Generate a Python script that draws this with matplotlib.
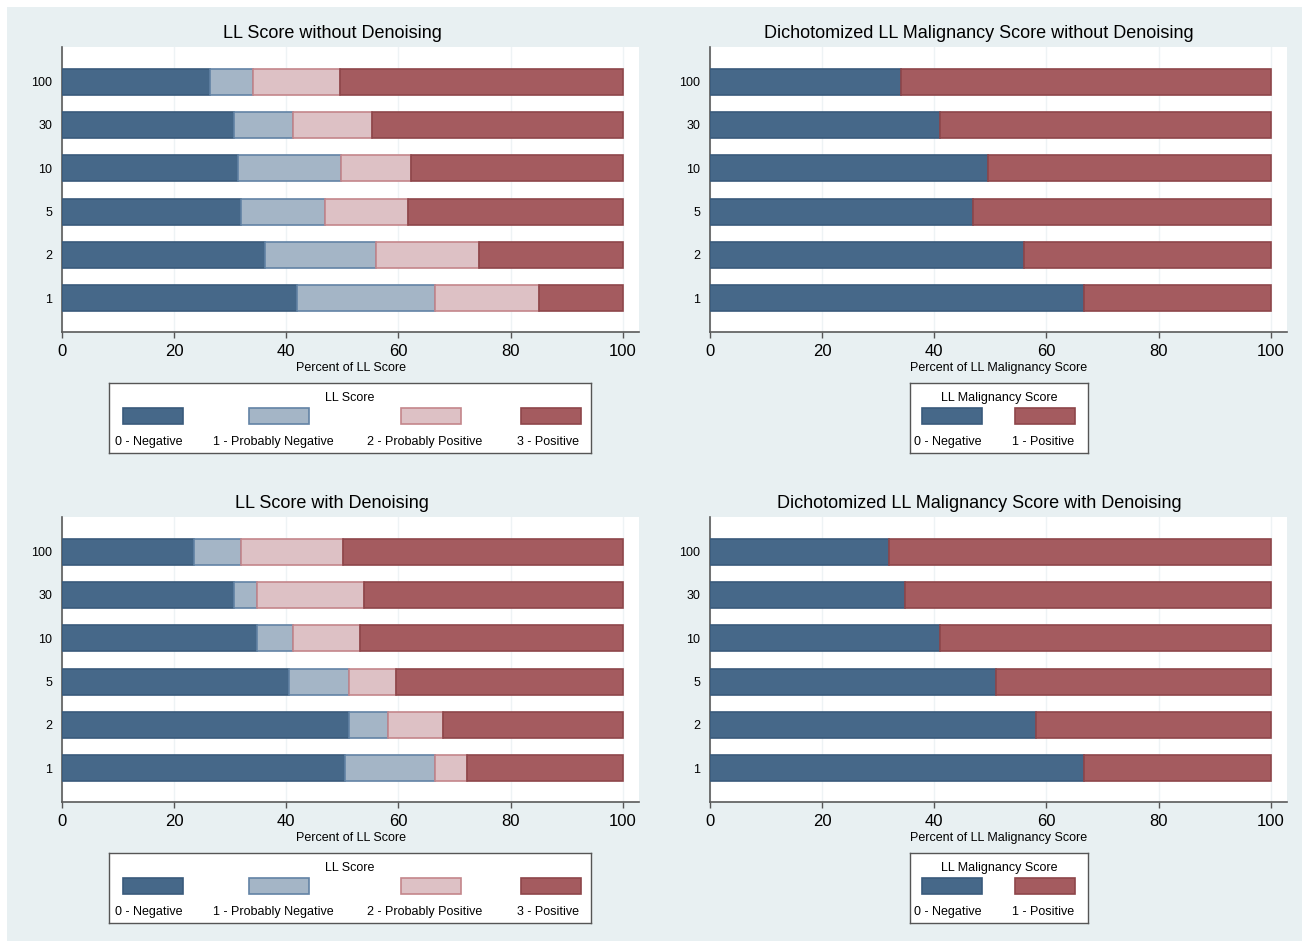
import matplotlib
matplotlib.use("Agg")
import matplotlib.pyplot as plt
from matplotlib.patches import Rectangle

plt.rcParams['font.family'] = ['Liberation Sans', 'DejaVu Sans']

W, H = 1305, 941

doses = ["1", "2", "5", "10", "30", "100"]

score_labels = ["0 - Negative", "1 - Probably Negative",
                "2 - Probably Positive", "3 - Positive"]
malig_labels = ["0 - Negative", "1 - Positive"]

# percent of readings per LL score, rows follow doses (bottom to top)
raw_neg = [41.9, 36.2, 32.0, 31.3, 30.6, 26.4]
raw_prob_neg = [24.7, 19.8, 14.9, 18.4, 10.6, 7.6]
raw_prob_pos = [18.4, 18.4, 14.8, 12.6, 14.1, 15.6]
raw_pos = [15.0, 25.6, 38.3, 37.7, 44.7, 50.4]

dn_neg = [50.4, 51.1, 40.5, 34.8, 30.6, 23.5]
dn_prob_neg = [16.2, 7.1, 10.6, 6.4, 4.2, 8.5]
dn_prob_pos = [5.7, 9.8, 8.5, 11.9, 19.0, 18.2]
dn_pos = [27.7, 32.0, 40.4, 46.9, 46.2, 49.8]

# dichotomized malignancy score
raw_malig_neg = [66.7, 56.0, 46.9, 49.6, 41.1, 34.1]
raw_malig_pos = [33.3, 44.0, 53.1, 50.4, 58.9, 65.9]
dn_malig_neg = [66.7, 58.2, 51.0, 41.1, 34.7, 31.9]
dn_malig_pos = [33.3, 41.8, 49.0, 58.9, 65.3, 68.1]

fills = ["#466889", "#a4b5c6", "#ddc1c5", "#a45b5f"]
edges = ["#395a7b", "#6283a5", "#c4868b", "#8e464a"]
bg = "#e8f0f2"

fig = plt.figure(figsize=(W / 100, H / 100), dpi=100, facecolor="white")
fig.patches.append(Rectangle((7 / W, 0), (W - 10) / W, (H - 7) / H,
                             transform=fig.transFigure, facecolor=bg,
                             edgecolor="none", zorder=-10))


def make_axes(left, top):
    return fig.add_axes([left / W, 1 - (top + 285) / H, 577 / W, 285 / H])


def draw_bars(ax, parts, fc, ec):
    pos = list(range(len(doses)))
    start = [0.0] * len(doses)
    for vals, f, e in zip(parts, fc, ec):
        ax.barh(pos, vals, left=start, height=0.6, color=f, edgecolor=e,
                linewidth=1.2, zorder=3)
        start = [a + b for a, b in zip(start, vals)]


def style_axes(ax, xlabel):
    ax.set_facecolor("white")
    ax.set_xlim(0, 102.9)
    ax.set_ylim(-0.78, 5.8)
    ax.set_yticks(range(len(doses)))
    ax.set_yticklabels(doses, fontsize=9)
    ax.tick_params(axis="y", length=0, pad=7)
    ax.set_xticks(range(0, 101, 20))
    ax.tick_params(axis="x", labelsize=12, length=4, width=1,
                   color="#555555", pad=4.5)
    ax.xaxis.grid(True, color="#eef3f5", linewidth=1)
    ax.set_axisbelow(True)
    for s in ("top", "right"):
        ax.spines[s].set_visible(False)
    for s in ("left", "bottom"):
        ax.spines[s].set_color("#5a5a5a")
        ax.spines[s].set_linewidth(1.2)
    ax.set_xlabel(xlabel, fontsize=9, labelpad=2.5)


def draw_key(x0, y0, w, title, labels, fc, ec, key_x, text_x):
    lax = fig.add_axes([x0 / W, 1 - (y0 + 70) / H, w / W, 70 / H])
    lax.set_xlim(0, w)
    lax.set_ylim(70, 0)
    lax.set_xticks([])
    lax.set_yticks([])
    lax.set_facecolor("white")
    for s in lax.spines.values():
        s.set_color("#555555")
        s.set_linewidth(1)
    lax.text(w / 2, 15, title, ha="center", va="center", fontsize=9)
    for kx, tx, lab, f, e in zip(key_x, text_x, labels, fc, ec):
        lax.add_patch(Rectangle((kx - 30, 25), 60, 16, facecolor=f,
                                edgecolor=e, linewidth=1.2))
        lax.text(tx, 59, lab, ha="center", va="center", fontsize=9)


panels = [
    (62, 47, "LL Score without Denoising", 332, 33,
     [raw_neg, raw_prob_neg, raw_prob_pos, raw_pos], fills, edges,
     "Percent of LL Score"),
    (710, 47, "Dichotomized LL Malignancy Score without Denoising", 979, 33,
     [raw_malig_neg, raw_malig_pos], [fills[0], fills[3]],
     [edges[0], edges[3]], "Percent of LL Malignancy Score"),
    (62, 517, "LL Score with Denoising", 332, 503,
     [dn_neg, dn_prob_neg, dn_prob_pos, dn_pos], fills, edges,
     "Percent of LL Score"),
    (710, 517, "Dichotomized LL Malignancy Score with Denoising", 979, 504,
     [dn_malig_neg, dn_malig_pos], [fills[0], fills[3]],
     [edges[0], edges[3]], "Percent of LL Malignancy Score"),
]

for left, top, title, tx, ty, parts, fc, ec, xlabel in panels:
    ax = make_axes(left, top)
    draw_bars(ax, parts, fc, ec)
    style_axes(ax, xlabel)
    fig.text(tx / W, 1 - ty / H, title, ha="center", va="center",
             fontsize=13)
    key_top = top + 336
    if len(parts) == 4:
        draw_key(109, key_top, 482, "LL Score", score_labels, fc, ec,
                 [44, 170, 322, 442], [40, 164, 316, 439])
    else:
        draw_key(910, key_top, 178, "LL Malignancy Score", malig_labels,
                 fc, ec, [42, 135], [38, 133])

fig.savefig("out.png", dpi=100, facecolor=fig.get_facecolor())
